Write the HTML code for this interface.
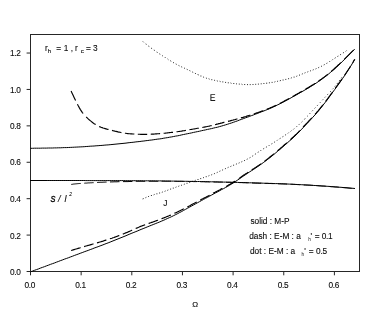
<!DOCTYPE html>
<html><head><meta charset="utf-8"><title>chart</title>
<style>
html,body{margin:0;padding:0;background:#fff;}
body{width:377px;height:327px;overflow:hidden;font-family:"Liberation Sans",sans-serif;}
svg{display:block;filter:grayscale(1);}
text{font-family:"Liberation Sans",sans-serif;font-size:8.3px;fill:#0a0a0a;stroke:#0a0a0a;stroke-width:0.1px;}
.tk text{letter-spacing:-0.35px;}
.c{fill:none;stroke:#000;stroke-width:1.0;}
.d{fill:none;stroke:#000;stroke-width:1.15;}
.o{fill:none;stroke:#111;stroke-width:0.9;stroke-linecap:round;}
.t line{stroke:#262626;stroke-width:1;}
</style></head><body>
<svg width="377" height="327" viewBox="0 0 377 327">
<rect x="0" y="0" width="377" height="327" fill="#fff"/>
<rect x="30.5" y="34.5" width="329.0" height="237.0" fill="none" stroke="#262626" stroke-width="1"/>
<g class="t"><line x1="30.50" y1="271.5" x2="30.50" y2="275.3"/><line x1="81.15" y1="271.5" x2="81.15" y2="275.3"/><line x1="131.80" y1="271.5" x2="131.80" y2="275.3"/><line x1="182.45" y1="271.5" x2="182.45" y2="275.3"/><line x1="233.10" y1="271.5" x2="233.10" y2="275.3"/><line x1="283.75" y1="271.5" x2="283.75" y2="275.3"/><line x1="334.40" y1="271.5" x2="334.40" y2="275.3"/><line x1="26.6" y1="271.50" x2="30.5" y2="271.50"/><line x1="26.6" y1="235.09" x2="30.5" y2="235.09"/><line x1="26.6" y1="198.68" x2="30.5" y2="198.68"/><line x1="26.6" y1="162.27" x2="30.5" y2="162.27"/><line x1="26.6" y1="125.86" x2="30.5" y2="125.86"/><line x1="26.6" y1="89.45" x2="30.5" y2="89.45"/><line x1="26.6" y1="53.04" x2="30.5" y2="53.04"/></g>
<path class="c" d="M30.5,148.3 L32.5,148.3 L34.5,148.2 L36.5,148.2 L38.5,148.2 L40.4,148.2 L42.4,148.1 L44.4,148.1 L46.4,148.1 L48.4,148.0 L50.4,148.0 L52.4,148.0 L54.4,147.9 L56.4,147.9 L58.3,147.8 L60.3,147.8 L62.3,147.7 L64.3,147.6 L66.3,147.6 L68.3,147.5 L70.3,147.4 L72.3,147.3 L74.3,147.2 L76.2,147.1 L78.2,147.0 L80.2,146.9 L82.2,146.8 L84.2,146.7 L86.2,146.5 L88.2,146.4 L90.2,146.2 L92.2,146.1 L94.1,146.0 L96.1,145.8 L98.1,145.7 L100.1,145.5 L102.1,145.4 L104.1,145.2 L106.1,145.0 L108.1,144.9 L110.1,144.7 L112.0,144.5 L114.0,144.3 L116.0,144.1 L118.0,143.9 L120.0,143.7 L122.0,143.5 L124.0,143.3 L126.0,143.1 L128.0,142.8 L129.9,142.6 L131.9,142.4 L133.9,142.2 L135.9,141.9 L137.9,141.7 L139.9,141.5 L141.9,141.2 L143.9,141.0 L145.9,140.7 L147.8,140.5 L149.8,140.2 L151.8,140.0 L153.8,139.7 L155.8,139.4 L157.8,139.1 L159.8,138.9 L161.8,138.6 L163.8,138.2 L165.7,137.9 L167.7,137.6 L169.7,137.2 L171.7,136.9 L173.7,136.5 L175.7,136.1 L177.7,135.8 L179.7,135.4 L181.7,134.9 L183.6,134.5 L185.6,134.1 L187.6,133.7 L189.6,133.3 L191.6,132.9 L193.6,132.4 L195.6,132.0 L197.6,131.6 L199.6,131.2 L201.6,130.7 L203.5,130.3 L205.5,129.9 L207.5,129.4 L209.5,129.0 L211.5,128.6 L213.5,128.1 L215.5,127.6 L217.5,127.2 L219.5,126.6 L221.4,126.1 L223.4,125.5 L225.4,124.9 L227.4,124.3 L229.4,123.6 L231.4,123.0 L233.4,122.3 L235.4,121.6 L237.4,120.9 L239.3,120.1 L241.3,119.4 L243.3,118.7 L245.3,117.9 L247.3,117.2 L249.3,116.5 L251.3,115.7 L253.3,115.0 L255.3,114.2 L257.2,113.5 L259.2,112.7 L261.2,111.9 L263.2,111.2 L265.2,110.4 L267.2,109.6 L269.2,108.8 L271.2,107.9 L273.2,107.0 L275.1,106.1 L277.1,105.1 L279.1,104.2 L281.1,103.2 L283.1,102.1 L285.1,101.1 L287.1,100.0 L289.1,98.9 L291.1,97.8 L293.0,96.7 L295.0,95.6 L297.0,94.5 L299.0,93.3 L301.0,92.2 L303.0,91.1 L305.0,89.9 L307.0,88.8 L309.0,87.6 L310.9,86.4 L312.9,85.1 L314.9,83.9 L316.9,82.6 L318.9,81.2 L320.9,79.8 L322.9,78.4 L324.9,76.9 L326.9,75.4 L328.8,73.8 L330.8,72.1 L332.8,70.4 L334.8,68.7 L336.8,66.8 L338.8,65.0 L340.8,63.1 L342.8,61.1 L344.8,59.1 L346.7,57.2 L348.7,55.2 L350.7,53.2 L352.7,51.2 L354.7,49.2"/>
<path class="d" d="M71.1,91.1 L72.1,93.2 L73.1,95.3 L74.1,97.4 L75.1,99.5 L75.6,100.6 M77.4,104.2 L78.4,106.1 L79.4,107.9 L80.4,109.6 L81.4,111.1 L82.4,112.6 L83.1,113.5 M86.2,117.0 L87.2,117.9 L88.2,118.9 L89.2,119.8 L90.2,120.6 L91.2,121.4 L92.2,122.2 L93.2,123.0 L94.2,123.7 L95.2,124.3 L95.6,124.6 M99.1,126.4 L100.1,126.9 L101.1,127.3 L102.1,127.6 L103.1,128.0 L104.1,128.3 L105.1,128.6 L106.1,128.9 L107.1,129.2 L108.1,129.4 L108.5,129.5 M112.0,130.4 L113.0,130.7 L114.0,130.9 L115.0,131.2 L116.0,131.4 L117.0,131.6 L118.0,131.9 L119.0,132.1 L120.0,132.3 L121.0,132.5 L121.4,132.6 M124.9,133.2 L125.9,133.3 L126.9,133.5 L127.9,133.6 L128.9,133.7 L129.9,133.8 L130.9,133.9 L131.9,133.9 L132.9,134.0 L133.9,134.0 L134.3,134.1 M137.8,134.2 L138.8,134.2 L139.8,134.2 L140.8,134.3 L141.8,134.3 L142.8,134.3 L143.8,134.3 L144.8,134.3 L145.8,134.3 L146.8,134.3 L147.2,134.3 M150.7,134.2 L151.7,134.1 L152.7,134.1 L153.7,134.1 L154.7,134.0 L155.7,133.9 L156.7,133.9 L157.7,133.8 L158.7,133.7 L159.7,133.6 L160.1,133.6 M163.6,133.3 L164.6,133.2 L165.6,133.1 L166.6,133.0 L167.6,132.9 L168.6,132.8 L169.6,132.6 L170.6,132.5 L171.6,132.4 L172.6,132.3 L173.0,132.3 M176.5,131.8 L177.5,131.7 L178.5,131.5 L179.5,131.4 L180.5,131.2 L181.5,131.1 L182.5,130.9 L183.5,130.7 L184.5,130.6 L185.5,130.4 L185.9,130.3 M189.4,129.7 L190.4,129.5 L191.4,129.4 L192.4,129.2 L193.4,129.0 L194.4,128.9 L195.4,128.7 L196.4,128.5 L197.4,128.3 L198.4,128.2 L198.8,128.1 M202.3,127.5 L203.3,127.3 L204.3,127.1 L205.3,126.9 L206.3,126.7 L207.3,126.5 L208.3,126.3 L209.3,126.1 L210.3,125.8 L211.3,125.6 L211.7,125.5 M215.1,124.6 L216.1,124.4 L217.1,124.1 L218.1,123.9 L219.1,123.6 L220.1,123.4 L221.1,123.1 L222.1,122.9 L223.1,122.6 L224.1,122.3 L224.5,122.2 M228.0,121.4 L229.0,121.1 L230.0,120.9 L231.0,120.6 L232.0,120.3 L233.0,120.1 L234.0,119.8 L235.0,119.6 L236.0,119.3 L237.0,119.0 L237.4,118.9 M240.9,117.9 L241.9,117.6 L242.9,117.4 L243.9,117.1 L244.9,116.8 L245.9,116.5 L246.9,116.1 L247.9,115.8 L248.9,115.5 L249.9,115.2 L250.3,115.1 M253.8,113.9 L254.8,113.6 L255.8,113.2 L256.8,112.9 L257.8,112.6 L258.8,112.2 L259.8,111.9 L260.8,111.5 L261.8,111.1 L262.8,110.8 L263.3,110.6 M266.8,109.3 L267.8,108.9 L268.8,108.5 L269.8,108.1 L270.8,107.6 L271.8,107.2 L272.8,106.8 L273.8,106.3 L274.8,105.9 L275.8,105.4 L276.2,105.2 M279.7,103.5 L280.7,102.9 L281.7,102.4 L282.7,101.9 L283.7,101.4 L284.7,100.8 L285.7,100.3 L286.7,99.8 L287.7,99.2 L288.7,98.7 L289.1,98.4 M292.6,96.5 L293.6,96.0 L294.6,95.4 L295.6,94.8 L296.6,94.3 L297.6,93.7 L298.6,93.2 L299.6,92.6 L300.6,92.0 L301.6,91.5 L302.0,91.2 M305.5,89.2 L306.5,88.6 L307.5,88.0 L308.5,87.4 L309.5,86.8 L310.5,86.2 L311.5,85.6 L312.5,85.0 L313.5,84.4 L314.5,83.7 L314.9,83.5 M318.4,81.2 L319.4,80.5 L320.4,79.8 L321.4,79.1 L322.4,78.3 L323.4,77.6 L324.4,76.9 L325.4,76.1 L326.4,75.3 L327.4,74.6 L327.8,74.2 M331.3,71.3 L332.3,70.5 L333.3,69.6 L334.3,68.7 L335.3,67.8 L336.3,66.9 L337.3,66.0 L338.3,65.0 L339.3,64.1 L340.3,63.1 L340.7,62.7 M344.2,59.3 L345.2,58.3 L346.2,57.3 L347.2,56.3 L348.2,55.3 L349.2,54.3 L350.2,53.3 L351.2,52.3 L352.2,51.3 L353.2,50.4 L353.6,50.0"/>
<path class="o" d="M143.2,41.8 L143.4,42.0 M146.0,44.1 L146.2,44.2 M148.7,46.2 L148.9,46.3 M151.5,48.3 L151.7,48.4 M154.2,50.2 L154.4,50.3 M157.0,52.2 L157.2,52.3 M159.7,54.0 L159.9,54.1 M162.4,55.7 L162.6,55.9 M165.2,57.5 L165.4,57.7 M167.9,59.2 L168.1,59.4 M170.6,60.9 L170.9,61.1 M173.4,62.6 L173.6,62.7 M176.1,64.1 L176.3,64.2 M178.9,65.6 L179.1,65.7 M181.6,66.9 L181.8,67.0 M184.4,68.2 L184.5,68.2 M187.1,69.4 L187.3,69.5 M189.8,70.7 L190.0,70.8 M192.6,72.1 L192.8,72.2 M195.3,73.4 L195.5,73.5 M198.0,74.7 L198.3,74.8 M200.8,76.0 L201.0,76.0 M203.5,77.1 L203.7,77.2 M206.3,78.1 L206.5,78.2 M209.0,78.9 L209.2,79.0 M211.7,79.7 L211.9,79.7 M214.5,80.3 L214.7,80.4 M217.2,80.9 L217.4,81.0 M220.0,81.4 L220.2,81.5 M222.7,81.9 L222.9,81.9 M225.5,82.4 L225.7,82.4 M228.2,82.8 L228.4,82.8 M230.9,83.1 L231.1,83.2 M233.7,83.5 L233.9,83.5 M236.4,83.8 L236.6,83.9 M239.2,84.1 L239.4,84.1 M241.9,84.3 L242.1,84.4 M244.6,84.5 L244.8,84.5 M247.4,84.6 L247.6,84.6 M250.1,84.6 L250.3,84.6 M252.9,84.5 L253.1,84.5 M255.6,84.3 L255.8,84.3 M258.3,84.1 L258.5,84.1 M261.1,83.8 L261.3,83.8 M263.8,83.5 L264.0,83.5 M266.5,83.2 L266.8,83.2 M269.3,82.8 L269.5,82.8 M272.0,82.4 L272.2,82.4 M274.8,81.9 L275.0,81.8 M277.5,81.3 L277.7,81.2 M280.2,80.7 L280.5,80.6 M283.0,80.0 L283.2,80.0 M285.7,79.4 L285.9,79.4 M288.5,78.7 L288.7,78.7 M291.2,78.0 L291.4,77.9 M294.0,77.1 L294.2,77.1 M296.7,76.2 L296.9,76.1 M299.4,75.1 L299.6,75.1 M302.2,74.0 L302.4,73.9 M304.9,72.9 L305.1,72.8 M307.7,71.9 L307.9,71.8 M310.4,70.9 L310.6,70.8 M313.1,69.9 L313.3,69.8 M315.9,68.8 L316.1,68.7 M318.6,67.6 L318.8,67.5 M321.4,66.3 L321.6,66.2 M324.1,64.8 L324.3,64.7 M326.8,63.3 L327.0,63.2 M329.6,61.6 L329.8,61.4 M332.3,59.9 L332.5,59.7 M335.0,58.1 L335.3,57.9 M337.8,56.3 L338.0,56.2 M340.5,54.6 L340.7,54.5 M343.3,52.8 L343.5,52.7 M346.0,51.1 L346.2,50.9"/>
<path class="c" d="M30.5,271.8 L32.5,271.1 L34.5,270.3 L36.5,269.6 L38.5,268.9 L40.4,268.1 L42.4,267.4 L44.4,266.7 L46.4,265.9 L48.4,265.2 L50.4,264.4 L52.4,263.7 L54.4,263.0 L56.4,262.2 L58.3,261.5 L60.3,260.7 L62.3,260.0 L64.3,259.2 L66.3,258.5 L68.3,257.8 L70.3,257.0 L72.3,256.3 L74.3,255.5 L76.2,254.8 L78.2,254.1 L80.2,253.3 L82.2,252.6 L84.2,251.8 L86.2,251.1 L88.2,250.4 L90.2,249.6 L92.2,248.9 L94.1,248.1 L96.1,247.4 L98.1,246.7 L100.1,245.9 L102.1,245.2 L104.1,244.4 L106.1,243.6 L108.1,242.9 L110.1,242.1 L112.0,241.3 L114.0,240.5 L116.0,239.7 L118.0,238.9 L120.0,238.1 L122.0,237.3 L124.0,236.5 L126.0,235.7 L128.0,234.8 L129.9,234.0 L131.9,233.2 L133.9,232.4 L135.9,231.6 L137.9,230.8 L139.9,229.9 L141.9,229.1 L143.9,228.3 L145.9,227.5 L147.8,226.7 L149.8,225.9 L151.8,225.1 L153.8,224.3 L155.8,223.5 L157.8,222.7 L159.8,221.9 L161.8,221.0 L163.8,220.2 L165.7,219.3 L167.7,218.4 L169.7,217.5 L171.7,216.6 L173.7,215.6 L175.7,214.6 L177.7,213.6 L179.7,212.5 L181.7,211.5 L183.6,210.4 L185.6,209.3 L187.6,208.2 L189.6,207.1 L191.6,206.0 L193.6,204.9 L195.6,203.8 L197.6,202.7 L199.6,201.6 L201.6,200.5 L203.5,199.4 L205.5,198.3 L207.5,197.3 L209.5,196.2 L211.5,195.1 L213.5,194.0 L215.5,192.9 L217.5,191.9 L219.5,190.8 L221.4,189.7 L223.4,188.7 L225.4,187.6 L227.4,186.5 L229.4,185.3 L231.4,184.1 L233.4,182.9 L235.4,181.6 L237.4,180.2 L239.3,178.9 L241.3,177.5 L243.3,176.1 L245.3,174.8 L247.3,173.4 L249.3,172.1 L251.3,170.8 L253.3,169.5 L255.3,168.2 L257.2,166.9 L259.2,165.5 L261.2,164.1 L263.2,162.7 L265.2,161.2 L267.2,159.7 L269.2,158.2 L271.2,156.6 L273.2,155.0 L275.1,153.4 L277.1,151.7 L279.1,150.0 L281.1,148.3 L283.1,146.6 L285.1,144.8 L287.1,143.1 L289.1,141.3 L291.1,139.6 L293.0,137.8 L295.0,135.9 L297.0,134.0 L299.0,132.0 L301.0,129.9 L303.0,127.8 L305.0,125.6 L307.0,123.5 L309.0,121.4 L310.9,119.3 L312.9,117.2 L314.9,115.0 L316.9,112.7 L318.9,110.3 L320.9,107.9 L322.9,105.3 L324.9,102.8 L326.9,100.2 L328.8,97.5 L330.8,94.8 L332.8,92.1 L334.8,89.4 L336.8,86.6 L338.8,83.8 L340.8,81.0 L342.8,78.2 L344.8,75.3 L346.7,72.4 L348.7,69.3 L350.7,66.2 L352.7,62.9 L354.7,59.5"/>
<path class="d" d="M71.1,250.5 L72.1,250.2 L73.1,249.9 L74.1,249.6 L75.1,249.3 L76.1,249.0 L77.1,248.7 L78.1,248.4 L79.1,248.1 L80.1,247.8 L80.6,247.6 M84.1,246.6 L85.1,246.3 L86.1,246.0 L87.1,245.7 L88.1,245.4 L89.1,245.2 L90.1,244.9 L91.1,244.6 L92.1,244.3 L93.1,244.0 L93.5,243.9 M97.0,242.9 L98.0,242.6 L99.0,242.3 L100.0,242.0 L101.0,241.7 L102.0,241.4 L103.0,241.1 L104.0,240.7 L105.0,240.4 L106.0,240.1 L106.4,240.0 M109.9,238.8 L110.9,238.5 L111.9,238.2 L112.9,237.8 L113.9,237.5 L114.9,237.1 L115.9,236.7 L116.9,236.4 L117.9,236.0 L118.9,235.6 L119.3,235.5 M122.8,234.1 L123.8,233.7 L124.8,233.3 L125.8,232.9 L126.8,232.5 L127.8,232.1 L128.8,231.6 L129.8,231.2 L130.8,230.8 L131.8,230.3 L132.2,230.2 M135.7,228.6 L136.7,228.1 L137.7,227.7 L138.7,227.3 L139.7,226.8 L140.7,226.4 L141.7,226.0 L142.7,225.6 L143.7,225.2 L144.7,224.9 L145.1,224.7 M148.6,223.5 L149.6,223.1 L150.6,222.8 L151.6,222.4 L152.6,222.1 L153.6,221.7 L154.6,221.4 L155.6,221.0 L156.6,220.6 L157.6,220.3 L158.0,220.1 M161.5,218.8 L162.5,218.4 L163.5,218.0 L164.5,217.6 L165.5,217.2 L166.5,216.8 L167.5,216.4 L168.5,216.0 L169.5,215.5 L170.5,215.1 L170.9,214.9 M174.4,213.3 L175.4,212.9 L176.4,212.4 L177.4,211.9 L178.4,211.4 L179.4,210.9 L180.4,210.4 L181.4,209.9 L182.4,209.4 L183.4,208.9 L183.8,208.7 M187.3,206.9 L188.3,206.4 L189.3,205.9 L190.3,205.4 L191.3,204.8 L192.3,204.3 L193.3,203.8 L194.3,203.3 L195.3,202.7 L196.3,202.2 L196.7,202.0 M200.2,200.2 L201.2,199.6 L202.2,199.1 L203.2,198.6 L204.2,198.0 L205.2,197.5 L206.2,197.0 L207.2,196.4 L208.2,195.9 L209.2,195.4 L209.6,195.2 M213.0,193.3 L214.0,192.8 L215.0,192.3 L216.0,191.7 L217.0,191.2 L218.0,190.7 L219.0,190.2 L220.0,189.7 L221.0,189.1 L222.0,188.6 L222.4,188.4 M225.9,186.5 L226.9,186.0 L227.9,185.4 L228.9,184.8 L229.9,184.3 L230.9,183.7 L231.9,183.1 L232.9,182.4 L233.9,181.8 L234.9,181.2 L235.3,180.9 M238.8,178.6 L239.8,177.9 L240.8,177.2 L241.8,176.5 L242.8,175.8 L243.8,175.1 L244.8,174.5 L245.8,173.8 L246.8,173.2 L247.8,172.5 L248.2,172.2 M251.7,170.0 L252.7,169.3 L253.7,168.7 L254.7,168.0 L255.7,167.4 L256.7,166.7 L257.7,166.0 L258.7,165.4 L259.7,164.7 L260.7,164.0 L261.1,163.7 M264.6,161.2 L265.6,160.4 L266.6,159.7 L267.6,158.9 L268.6,158.1 L269.6,157.3 L270.6,156.5 L271.6,155.7 L272.6,154.9 L273.6,154.1 L274.0,153.8 M277.5,150.9 L278.5,150.0 L279.5,149.2 L280.5,148.3 L281.5,147.4 L282.5,146.6 L283.5,145.7 L284.5,144.8 L285.5,144.0 L286.5,143.1 L286.9,142.7 M290.4,139.6 L291.4,138.7 L292.4,137.8 L293.4,136.9 L294.4,136.0 L295.4,135.0 L296.4,134.1 L297.4,133.1 L298.4,132.1 L299.4,131.0 L299.8,130.6 M303.1,127.1 L304.1,126.0 L305.1,125.0 L306.1,123.9 L307.1,122.9 L308.1,121.8 L309.1,120.7 L310.1,119.7 L311.1,118.6 L311.9,117.8 M315.1,114.2 L316.1,113.1 L317.1,111.9 L318.1,110.8 L319.1,109.6 L320.1,108.4 L321.1,107.1 L322.1,105.9 L322.9,104.9 M325.6,101.4 L326.6,100.1 L327.6,98.8 L328.6,97.4 L329.6,96.1 L330.6,94.7 L331.6,93.4 L332.6,92.0 M335.2,88.4 L336.2,87.0 L337.2,85.6 L338.2,84.3 L339.2,82.9 L340.2,81.5 L341.2,80.1 L341.9,79.1 M344.4,75.5 L345.4,74.0 L346.4,72.5 L347.4,71.0 L348.4,69.5 L349.4,68.0 L350.4,66.4 L350.5,66.3 M352.7,62.7 L353.7,61.0 L354.7,59.3"/>
<path class="o" d="M143.0,198.8 L143.3,198.7 M145.8,197.6 L146.0,197.5 M148.5,196.5 L148.7,196.4 M151.3,195.5 L151.5,195.5 M154.0,194.7 L154.2,194.6 M156.8,193.8 L157.0,193.8 M159.5,193.0 L159.7,193.0 M162.2,192.2 L162.4,192.1 M165.0,191.2 L165.2,191.1 M167.7,190.2 L167.9,190.1 M170.5,189.1 L170.7,189.1 M173.2,188.1 L173.4,188.1 M175.9,187.2 L176.1,187.1 M178.7,186.2 L178.9,186.1 M181.4,185.3 L181.6,185.2 M184.2,184.3 L184.4,184.2 M186.9,183.3 L187.1,183.3 M189.7,182.4 L189.9,182.3 M192.4,181.4 L192.6,181.4 M195.1,180.5 L195.3,180.4 M197.9,179.5 L198.1,179.5 M200.6,178.6 L200.8,178.6 M203.4,177.7 L203.6,177.6 M206.1,176.7 L206.3,176.7 M208.8,175.8 L209.0,175.7 M211.6,174.8 L211.8,174.7 M214.3,173.7 L214.5,173.6 M217.1,172.5 L217.3,172.4 M219.8,171.2 L220.0,171.1 M222.5,170.0 L222.7,169.9 M225.3,168.7 L225.5,168.6 M228.0,167.5 L228.2,167.4 M230.8,166.4 L231.0,166.3 M233.5,165.2 L233.7,165.2 M236.3,164.1 L236.5,164.0 M239.0,163.0 L239.2,162.9 M241.7,161.8 L241.9,161.7 M244.4,160.6 L244.6,160.5 M247.1,159.2 L247.3,159.1 M249.9,157.7 L250.1,157.6 M252.6,156.0 L252.8,155.9 M255.3,154.1 L255.5,154.0 M258.1,152.2 L258.3,152.1 M260.8,150.5 L261.0,150.3 M263.6,148.7 L263.8,148.6 M266.3,147.1 L266.5,147.0 M269.1,145.5 L269.3,145.3 M271.8,143.8 L272.0,143.7 M274.5,142.1 L274.7,142.0 M277.3,140.3 L277.5,140.1 M280.0,138.5 L280.2,138.4 M282.8,136.7 L283.0,136.6 M285.5,134.9 L285.7,134.8 M288.2,133.1 L288.4,132.9 M291.0,131.1 L291.2,130.9 M293.7,129.1 L293.9,128.9 M296.5,126.8 L296.7,126.6 M299.2,124.4 L299.4,124.2 M301.9,121.9 L302.1,121.7 M304.7,119.1 L304.9,118.8 M307.3,116.3 L307.4,116.2 M309.8,113.6 L310.0,113.4 M312.3,110.9 L312.5,110.7 M314.9,108.1 L315.1,107.9 M317.5,105.4 L317.7,105.2 M320.1,102.6 L320.2,102.5 M322.6,99.9 L322.8,99.7 M325.1,97.2 L325.3,97.0 M327.7,94.4 L327.9,94.2 M330.3,91.7 L330.5,91.5 M332.8,88.9 L332.9,88.8 M335.1,86.2 L335.3,86.0 M337.3,83.5 L337.5,83.2 M339.4,80.8 L339.6,80.5 M341.5,78.0 L341.6,77.8"/>
<path class="c" d="M30.0,180.5 L32.0,180.5 L34.0,180.5 L36.0,180.5 L38.0,180.5 L40.0,180.5 L42.0,180.5 L44.0,180.5 L46.0,180.5 L47.9,180.5 L49.9,180.5 L51.9,180.5 L53.9,180.5 L55.9,180.5 L57.9,180.5 L59.9,180.5 L61.9,180.5 L63.9,180.5 L65.9,180.5 L67.9,180.5 L69.9,180.5 L71.9,180.5 L73.9,180.5 L75.9,180.5 L77.9,180.5 L79.8,180.5 L81.8,180.5 L83.8,180.5 L85.8,180.6 L87.8,180.6 L89.8,180.6 L91.8,180.6 L93.8,180.6 L95.8,180.6 L97.8,180.6 L99.8,180.6 L101.8,180.6 L103.8,180.6 L105.8,180.6 L107.8,180.6 L109.8,180.6 L111.7,180.6 L113.7,180.6 L115.7,180.6 L117.7,180.6 L119.7,180.6 L121.7,180.6 L123.7,180.6 L125.7,180.7 L127.7,180.7 L129.7,180.7 L131.7,180.7 L133.7,180.7 L135.7,180.7 L137.7,180.7 L139.7,180.7 L141.7,180.7 L143.7,180.8 L145.6,180.8 L147.6,180.8 L149.6,180.8 L151.6,180.8 L153.6,180.8 L155.6,180.9 L157.6,180.9 L159.6,180.9 L161.6,180.9 L163.6,180.9 L165.6,181.0 L167.6,181.0 L169.6,181.0 L171.6,181.1 L173.6,181.1 L175.6,181.1 L177.5,181.2 L179.5,181.2 L181.5,181.2 L183.5,181.3 L185.5,181.3 L187.5,181.3 L189.5,181.4 L191.5,181.4 L193.5,181.4 L195.5,181.5 L197.5,181.5 L199.5,181.5 L201.5,181.6 L203.5,181.6 L205.5,181.7 L207.5,181.7 L209.4,181.8 L211.4,181.8 L213.4,181.8 L215.4,181.9 L217.4,181.9 L219.4,182.0 L221.4,182.0 L223.4,182.1 L225.4,182.1 L227.4,182.2 L229.4,182.2 L231.4,182.3 L233.4,182.3 L235.4,182.4 L237.4,182.4 L239.4,182.5 L241.3,182.5 L243.3,182.6 L245.3,182.6 L247.3,182.7 L249.3,182.8 L251.3,182.8 L253.3,182.9 L255.3,183.0 L257.3,183.0 L259.3,183.1 L261.3,183.1 L263.3,183.2 L265.3,183.3 L267.3,183.3 L269.3,183.4 L271.3,183.4 L273.3,183.5 L275.2,183.6 L277.2,183.6 L279.2,183.7 L281.2,183.8 L283.2,183.8 L285.2,183.9 L287.2,184.0 L289.2,184.1 L291.2,184.2 L293.2,184.3 L295.2,184.4 L297.2,184.5 L299.2,184.6 L301.2,184.7 L303.2,184.8 L305.2,184.9 L307.1,185.0 L309.1,185.1 L311.1,185.2 L313.1,185.4 L315.1,185.5 L317.1,185.6 L319.1,185.7 L321.1,185.9 L323.1,186.0 L325.1,186.1 L327.1,186.3 L329.1,186.4 L331.1,186.6 L333.1,186.7 L335.1,186.9 L337.1,187.0 L339.0,187.2 L341.0,187.3 L343.0,187.5 L345.0,187.6 L347.0,187.8 L349.0,188.0 L351.0,188.2 L353.0,188.3 L355.0,188.5"/>
<path class="d" style="stroke-width:1" d="M71.3,184.4 L72.3,184.3 L73.3,184.1 L74.3,184.0 L75.3,183.9 L76.3,183.8 L77.3,183.7 L78.3,183.6 L79.3,183.5 L80.3,183.5 L80.8,183.4 M84.3,183.2 L85.3,183.1 L86.3,183.1 L87.3,183.0 L88.3,182.9 L89.3,182.9 L90.3,182.8 L91.3,182.8 L92.3,182.7 L93.3,182.7 L93.7,182.7 M97.2,182.5 L98.2,182.4 L99.2,182.4 L100.2,182.3 L101.2,182.3 L102.2,182.3 L103.2,182.2 L104.2,182.2 L105.2,182.1 L106.2,182.1 L106.6,182.1 M110.0,182.0 L111.0,181.9 L112.0,181.9 L113.0,181.9 L114.0,181.8 L115.0,181.8 L116.0,181.8 L117.0,181.8 L118.0,181.7 L119.0,181.7 L119.5,181.7 M123.0,181.6 L124.0,181.6 L125.0,181.6 L126.0,181.6 L127.0,181.6 L128.0,181.6 L129.0,181.5 L130.0,181.5 L131.0,181.5 L132.0,181.5 L132.4,181.5 M135.8,181.4 L136.8,181.4 L137.8,181.4 L138.8,181.4 L139.8,181.4 L140.8,181.4 L141.8,181.4 L142.8,181.4 L143.8,181.4 L144.8,181.4 L145.2,181.4 M148.8,181.3 L149.8,181.3 L150.8,181.3 L151.8,181.3 L152.8,181.3 L153.8,181.3 L154.8,181.3 L155.8,181.3 L156.8,181.3 L157.8,181.3 L158.2,181.3 M161.6,181.3 L162.6,181.3 L163.6,181.3 L164.6,181.3 L165.6,181.3 L166.6,181.3 L167.6,181.3 L168.6,181.3 L169.6,181.3 L170.6,181.3 L171.1,181.3 M174.5,181.4 L175.5,181.4 L176.5,181.4 L177.5,181.4 L178.5,181.4 L179.5,181.4 L180.5,181.4 L181.5,181.4 L182.5,181.4 L183.5,181.4 L184.0,181.4 M187.5,181.5 L188.5,181.5 L189.5,181.5 L190.5,181.5 L191.5,181.5 L192.5,181.5 L193.5,181.6 L194.5,181.6 L195.5,181.6 L196.5,181.6 L196.9,181.6 M200.3,181.7 L201.3,181.7 L202.3,181.7 L203.3,181.7 L204.3,181.7 L205.3,181.8 L206.3,181.8 L207.3,181.8 L208.3,181.8 L209.3,181.9 L209.8,181.9 M213.3,181.9 L214.3,182.0 L215.3,182.0 L216.3,182.0 L217.3,182.0 L218.3,182.1 L219.3,182.1 L220.3,182.1 L221.3,182.1 L222.3,182.1 L222.7,182.2 M226.2,182.2 L227.2,182.3 L228.2,182.3 L229.2,182.3 L230.2,182.3 L231.2,182.4 L232.2,182.4 L233.2,182.4 L234.2,182.4 L235.2,182.5 L235.6,182.5 M239.1,182.6 L240.1,182.6 L241.1,182.6 L242.1,182.6 L243.1,182.7 L244.1,182.7 L245.1,182.7 L246.1,182.8 L247.1,182.8 L248.1,182.8 L248.5,182.8 M252.0,182.9 L253.0,183.0 L254.0,183.0 L255.0,183.0 L256.0,183.1 L257.0,183.1 L258.0,183.1 L259.0,183.2 L260.0,183.2 L261.0,183.2 L261.4,183.2 M264.9,183.3 L265.9,183.4 L266.9,183.4 L267.9,183.4 L268.9,183.5 L269.9,183.5 L270.9,183.5 L271.9,183.6 L272.9,183.6 L273.9,183.6 L274.3,183.6 M277.8,183.7 L278.8,183.8 L279.8,183.8 L280.8,183.8 L281.8,183.9 L282.8,183.9 L283.8,184.0 L284.8,184.0 L285.8,184.0 L286.8,184.1 L287.2,184.1 M290.7,184.2 L291.7,184.3 L292.7,184.3 L293.7,184.4 L294.7,184.4 L295.7,184.5 L296.7,184.5 L297.7,184.6 L298.7,184.6 L299.7,184.7 L300.1,184.7 M303.6,184.9 L304.6,185.0 L305.6,185.0 L306.6,185.1 L307.6,185.1 L308.6,185.2 L309.6,185.2 L310.6,185.3 L311.6,185.4 L312.6,185.4 L313.0,185.5 M316.5,185.7 L317.5,185.7 L318.5,185.8 L319.5,185.9 L320.5,185.9 L321.5,186.0 L322.5,186.1 L323.5,186.1 L324.5,186.2 L325.5,186.3 L325.9,186.3 M329.3,186.5 L330.3,186.6 L331.3,186.7 L332.3,186.7 L333.3,186.8 L334.3,186.9 L335.3,187.0 L336.3,187.0 L337.3,187.1 L338.3,187.2 L338.8,187.2 M342.3,187.5 L343.3,187.6 L344.3,187.7 L345.3,187.8 L346.3,187.8 L347.3,187.9 L348.3,188.0 L349.3,188.1 L350.3,188.2 L351.3,188.3 L351.7,188.3"/>
<g><g class="tk"><text x="29.75" y="288.1" text-anchor="middle">0.0</text><text x="80.40" y="288.1" text-anchor="middle">0.1</text><text x="131.05" y="288.1" text-anchor="middle">0.2</text><text x="181.70" y="288.1" text-anchor="middle">0.3</text><text x="232.35" y="288.1" text-anchor="middle">0.4</text><text x="283.00" y="288.1" text-anchor="middle">0.5</text><text x="333.65" y="288.1" text-anchor="middle">0.6</text></g>
<g class="tk"><text x="20.6" y="275.15" text-anchor="end">0.0</text><text x="20.6" y="238.84" text-anchor="end">0.2</text><text x="20.6" y="201.83" text-anchor="end">0.4</text><text x="20.6" y="165.32" text-anchor="end">0.6</text><text x="20.6" y="128.91" text-anchor="end">0.8</text><text x="20.6" y="92.50" text-anchor="end">1.0</text><text x="20.6" y="56.04" text-anchor="end">1.2</text></g>
<text y="50.6"><tspan x="44.9">r</tspan><tspan x="47.8" y="53.3" font-size="6.2">h</tspan><tspan x="56.2" y="50.6">=</tspan><tspan x="63.7">1</tspan><tspan x="70.7">,</tspan><tspan x="75.0">r</tspan><tspan x="80.8" y="53.3" font-size="6.2">c</tspan><tspan x="85.9" y="50.6">=</tspan><tspan x="93.0">3</tspan></text>
<path d="M210.4,94.2h4.7v0.75h-3.7v2.2h3.3v0.85h-3.3v2.1h3.8v0.8h-4.8z" fill="#1c1c1c"/>
<text x="163.2" y="205.9">J</text>
<text transform="translate(50.5,201.8) scale(0.8,1.06)" style="font-style:italic;font-size:9.2px;stroke-width:0.4px">S</text>
<text y="201.7" style="font-style:italic;font-size:9.2px"><tspan x="57.9">/</tspan><tspan x="64.5">l</tspan><tspan x="69.3" y="195.9" font-size="4.8">2</tspan></text>
<text x="250.4" y="224.2">solid : M-P</text>
<text y="238.7"><tspan x="249.2">dash : E-M : a</tspan><tspan x="308.2" y="241.2" font-size="4.8" opacity="0.75">h</tspan><tspan x="310.4" y="238.7">'</tspan><tspan x="314.7">=</tspan><tspan x="321.7" letter-spacing="-0.3">0.1</tspan></text>
<text y="253.8"><tspan x="250">dot : E-M : a</tspan><tspan x="301.6" y="256.3" font-size="4.8" opacity="0.75">h</tspan><tspan x="304.2" y="253.8">'</tspan><tspan x="308.7">=</tspan><tspan x="316.1" letter-spacing="-0.3">0.5</tspan></text>
<text x="195.2" y="306.9" text-anchor="middle" style="font-size:7.8px">Ω</text>
</g>
</svg>
</body></html>
